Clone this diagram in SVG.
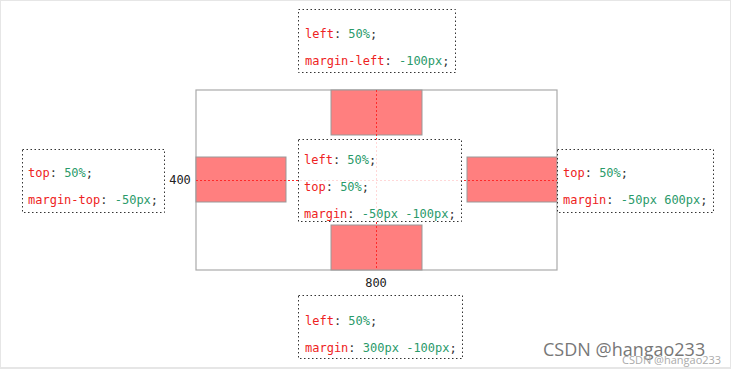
<svg xmlns="http://www.w3.org/2000/svg" width="731" height="370" viewBox="0 0 731 370">
<style>
.frame{fill:#fff;stroke:#e6e6e6;stroke-width:2}
.cont{fill:#fff;stroke:#aaa;stroke-width:1.2}
.red{fill:#ff7f7f;stroke:#999;stroke-width:1}
.guide{stroke:#ff2a2a;stroke-width:1;stroke-dasharray:2 2;fill:none}
.note{fill:#fff;stroke:#333;stroke-width:1;stroke-dasharray:1.5 2.5}
.code{font-family:"DejaVu Sans Mono",monospace;font-size:12px;fill:#333}
.p{fill:#ee2222}
.v{fill:#2a9a6a}
.dim{font-family:"DejaVu Sans Mono",monospace;font-size:12px;fill:#222;text-anchor:middle}
</style>
<rect class="frame" x="0" y="0" width="731" height="368"/>
<g id="container">
<rect class="cont" x="196" y="90" width="361" height="180"/>
</g>
<g id="box-top"><rect class="red" x="331" y="90" width="91" height="45"/></g>
<g id="box-bottom"><rect class="red" x="331" y="225" width="91" height="45"/></g>
<g id="box-left"><rect class="red" x="196" y="157" width="90" height="45"/></g>
<g id="box-right"><rect class="red" x="467" y="157" width="90" height="45"/></g>
<g id="guides">
<line class="guide" x1="376.5" y1="90" x2="376.5" y2="270"/>
<line class="guide" x1="196" y1="180.5" x2="557" y2="180.5"/>
</g>
<g id="label-400"><text class="dim" x="180" y="184">400</text></g>
<g id="label-800"><text class="dim" x="376" y="287">800</text></g>
<g id="note-top">
<rect class="note" x="298.5" y="9.5" width="157" height="63"/>
<text class="code" x="305" y="38"><tspan class="p">left</tspan>: <tspan class="v">50%</tspan>;</text>
<text class="code" x="305" y="65"><tspan class="p">margin-left</tspan>: <tspan class="v">-100px</tspan>;</text>
</g>
<g id="note-center">
<rect class="note" x="298.5" y="139.5" width="163" height="82" style="fill:#fff;fill-opacity:0.82"/>
<text class="code" x="304" y="164"><tspan class="p">left</tspan>: <tspan class="v">50%</tspan>;</text>
<text class="code" x="304" y="191"><tspan class="p">top</tspan>: <tspan class="v">50%</tspan>;</text>
<text class="code" x="304" y="218"><tspan class="p">margin</tspan>: <tspan class="v">-50px -100px</tspan>;</text>
</g>
<g id="note-left">
<rect class="note" x="22.5" y="149.5" width="142" height="63"/>
<text class="code" x="28" y="177"><tspan class="p">top</tspan>: <tspan class="v">50%</tspan>;</text>
<text class="code" x="28" y="204"><tspan class="p">margin-top</tspan>: <tspan class="v">-50px</tspan>;</text>
</g>
<g id="note-right">
<rect class="note" x="557.5" y="149.5" width="156" height="63"/>
<text class="code" x="563" y="177"><tspan class="p">top</tspan>: <tspan class="v">50%</tspan>;</text>
<text class="code" x="563" y="204"><tspan class="p">margin</tspan>: <tspan class="v">-50px 600px</tspan>;</text>
</g>
<g id="note-bottom">
<rect class="note" x="298.5" y="295.5" width="164" height="63"/>
<text class="code" x="305" y="325"><tspan class="p">left</tspan>: <tspan class="v">50%</tspan>;</text>
<text class="code" x="305" y="352"><tspan class="p">margin</tspan>: <tspan class="v">300px -100px</tspan>;</text>
</g>
<g id="watermark">
<text x="543" y="356" style="font-family:'Open Sans','Noto Sans',sans-serif;font-size:18px;fill:#777">CSDN @hangao233</text>
<text x="622" y="364" style="font-family:'Open Sans','Noto Sans',sans-serif;font-size:11px;fill:#aaa">CSDN @hangao233</text>
</g>
</svg>
